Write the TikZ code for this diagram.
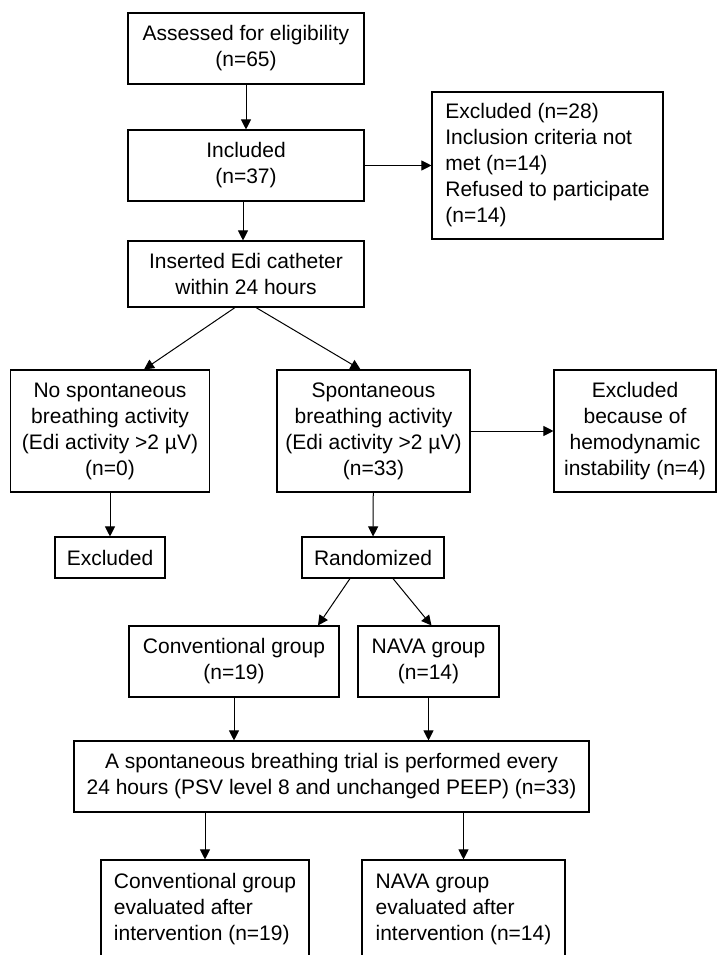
\documentclass[tikz,border=0pt]{standalone}
\usepackage{fontspec}
\setmainfont{Liberation Sans}
\usetikzlibrary{arrows.meta}

\begin{document}
\begin{tikzpicture}[x=1pt, y=-1pt, >={Triangle[length=10pt,width=10pt]},
    box/.style={draw, line width=1.1pt, align=center, inner sep=0pt,
        font=\fontsize{21}{26}\selectfont},
    lbox/.style={box, align=left},
    flow/.style={->, line width=1pt}]
    \useasboundingbox (0,0) rectangle (717,955);

    \draw (246,48.5) node[box, minimum width=236pt, minimum height=71pt] (assess) {Assessed for eligibility\\(n=65)};
    \draw (246,165.5) node[box, minimum width=236pt, minimum height=71pt] (incl) {Included\\(n=37)};
    \draw (547.5,165.5) node[lbox, minimum width=231pt, minimum height=147pt] (excla) {Excluded (n=28)\\Inclusion criteria not\\met (n=14)\\Refused to participate\\(n=14)};
    \draw (246,274) node[box, minimum width=236pt, minimum height=66pt] (edi) {Inserted Edi catheter\\within 24 hours};

    \draw (110,431) node[box, minimum width=199pt, minimum height=122pt] (nospont) {No spontaneous\\breathing activity\\(Edi activity >2 µV)\\(n=0)};
    \draw (373.5,431) node[box, minimum width=193pt, minimum height=122pt] (spont) {Spontaneous\\breathing activity\\(Edi activity >2 µV)\\(n=33)};
    \draw (635,431) node[box, minimum width=162pt, minimum height=122pt] (exclb) {Excluded\\because of\\hemodynamic\\instability (n=4)};

    \draw (110,557.5) node[box, minimum width=110pt, minimum height=41pt] (excl) {Excluded};
    \draw (373,557.5) node[box, minimum width=142pt, minimum height=41pt] (rand) {Randomized};

    \draw (234,661.5) node[box, minimum width=210pt, minimum height=71pt] (conv) {Conventional group\\(n=19)};
    \draw (428.5,661.5) node[box, minimum width=141pt, minimum height=71pt] (nava) {NAVA group\\(n=14)};

    \draw (331.5,776.5) node[box, minimum width=515pt, minimum height=71pt] (sbt) {A spontaneous breathing trial is performed every\\24 hours (PSV level 8 and unchanged PEEP) (n=33)};

    \draw (205,909) node[lbox, minimum width=208pt, minimum height=98pt] (convev) {Conventional group\\evaluated after\\intervention (n=19)};
    \draw (463.5,909) node[lbox, minimum width=203pt, minimum height=98pt] (navaev) {NAVA group\\evaluated after\\intervention (n=14)};

    \draw[flow] (assess) to (incl);
    \draw[flow] (incl) to (excla);
    \draw[flow] ([xshift=-3pt]incl.south) to ([xshift=-3pt]edi.north);
    \draw[flow] ([xshift=-11pt]edi.south) to ([xshift=34pt]nospont.north);
    \draw[flow] ([xshift=10pt]edi.south) to ([xshift=-13pt]spont.north);
    \draw[flow] (nospont) to (excl);
    \draw[flow] (spont) to (exclb);
    \draw[flow] (spont) to (rand);
    \draw[flow] ([xshift=-23pt]rand.south) to ([xshift=84pt]conv.north);
    \draw[flow] ([xshift=20pt]rand.south) to ([xshift=3pt]nava.north);
    \draw[flow] (conv.south) to (conv.south |- sbt.north);
    \draw[flow] (nava.south) to (nava.south |- sbt.north);
    \draw[flow] (convev.north |- sbt.south) to (convev.north);
    \draw[flow] (navaev.north |- sbt.south) to (navaev.north);
\end{tikzpicture}
\end{document}
